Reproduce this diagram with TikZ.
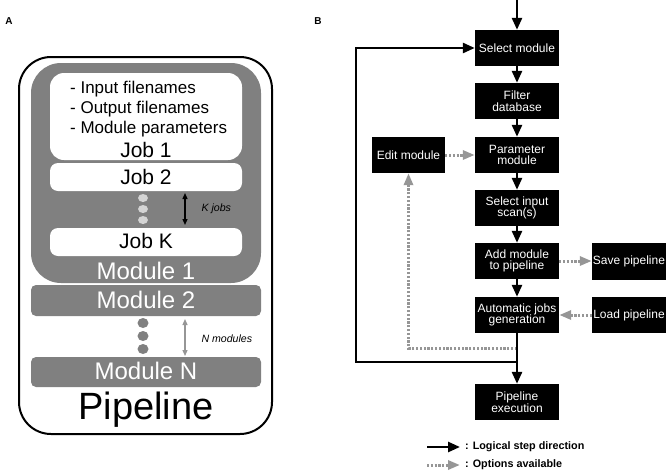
\documentclass[tikz,border=0pt]{standalone}
\usepackage{fontspec}
\setmainfont{Liberation Sans}
\usetikzlibrary{arrows.meta,calc,shapes.geometric}
\definecolor{modgray}{RGB}{128,128,128}
\definecolor{dotlight}{RGB}{212,212,212}
\definecolor{optgray}{RGB}{150,150,150}
\begin{document}
\begin{tikzpicture}[x=1pt,y=-1pt,
  fbox/.style={fill=black,text=white,minimum width=84pt,minimum height=36pt,align=center,inner sep=1pt,font=\fontsize{12}{11.5}\selectfont},
  flow/.style={line width=2.6pt,-{Triangle[length=12pt,width=10pt]}},
  opt/.style={line width=3pt,optgray,dash pattern=on 2.2pt off 1.6pt,-{Triangle[length=12pt,width=9pt]}},
  jobbox/.style={fill=white,rounded corners=8pt,minimum width=192pt,inner sep=0pt},
  modbox/.style={fill=modgray,rounded corners=5pt,minimum width=230pt,inner sep=0pt},
  modtext/.style={text=white,font=\fontsize{24}{24}\selectfont},
  jobtext/.style={font=\fontsize{21}{21}\selectfont},
  lightdot/.style={ellipse,fill=dotlight,minimum width=10pt,minimum height=8pt,inner sep=0pt},
  darkdot/.style={ellipse,fill=modgray,minimum width=11pt,minimum height=10pt,inner sep=0pt},
  panellabel/.style={font=\bfseries\fontsize{10}{10}\selectfont},
  countlabel/.style={anchor=west,font=\itshape\fontsize{10.6}{10.6}\selectfont}
]
\useasboundingbox (0,0) rectangle (669,474);

% ---------------- Panel A ----------------
\node[panellabel] (labA) at (9,21) {A};
\node[draw=black,line width=2pt,rounded corners=32pt,minimum width=253pt,minimum height=377pt,inner sep=0pt] (outer) at (145.5,245.5) {};
\node[fill=modgray,rounded corners=30pt,minimum width=230pt,minimum height=220pt,inner sep=0pt] (mod1) at (146,173) {};
\node[jobbox,minimum height=87pt,rounded corners=14pt] (job1) at (146,116.5) {};
\node[anchor=north west,align=left,font=\fontsize{17}{20}\selectfont,inner sep=0pt] (job1list) at (70,81) {- Input filenames\\- Output filenames\\- Module parameters};
\node[jobtext] (job1t) at (146,150) {Job 1};
\node[jobbox,minimum height=28pt] (job2) at (146,177) {};
\node[jobtext] (job2t) at (146,177) {Job 2};
\node[lightdot] (kd1) at (143,198) {};
\node[lightdot] (kd2) at (143,209) {};
\node[lightdot] (kd3) at (143,220) {};
\coordinate (ka) at (185,193);
\coordinate (kb) at (185,225);
\draw[line width=1.3pt,{Triangle[length=6pt,width=5pt]}-{Triangle[length=6pt,width=5pt]}] (ka) -- (kb);
\node[countlabel] (kjobs) at (198,209) {K jobs};
\node[jobbox,minimum height=28pt] (jobk) at (146,242) {};
\node[jobtext] (jobkt) at (146,241) {Job K};
\node[modtext] (mod1t) at (146,271) {Module 1};
\node[modbox,minimum height=31pt] (mod2) at (146,300.5) {};
\node[modtext] (mod2t) at (146,300) {Module 2};
\node[darkdot] (nd1) at (143,323) {};
\node[darkdot] (nd2) at (143,336) {};
\node[darkdot] (nd3) at (143,349) {};
\coordinate (na) at (185,319);
\coordinate (nb) at (185,356);
\draw[line width=1.2pt,optgray,{Triangle[length=6pt,width=5pt]}-{Triangle[length=6pt,width=5pt]}] (na) -- (nb);
\node[countlabel] (nmod) at (198,339) {N modules};
\node[modbox,minimum height=30pt] (modn) at (146,372) {};
\node[modtext] (modnt) at (146,371) {Module N};
\node[font=\fontsize{38}{38}\selectfont] (pipe) at (146,410) {Pipeline};

% ---------------- Panel B ----------------
\node[panellabel] (labB) at (318,21) {B};
\node[fbox] (sel) at (517,48) {Select module};
\node[fbox] (filt) at (517,101) {Filter\\database};
\node[fbox] (param) at (517,155) {Parameter\\module};
\node[fbox] (scan) at (517,208) {Select input\\scan(s)};
\node[fbox] (add) at (517,261) {Add module\\to pipeline};
\node[fbox] (auto) at (517,315) {Automatic jobs\\generation};
\node[fbox] (exec) at (517,402) {Pipeline\\execution};
\node[fbox,minimum width=73pt] (edit) at (408.5,155) {Edit module};
\node[fbox,minimum width=74pt,minimum height=37pt] (save) at (629,261) {Save pipeline};
\node[fbox,minimum width=74pt] (load) at (629,315) {Load pipeline};

\coordinate (topin) at (517,0);
\coordinate (dj) at (517,348);
\coordinate (lj) at (517,362);
\coordinate (lc) at (356,362);

% options (dotted gray)
\draw[opt] (edit) -- (param);
\draw[opt] (add) -- (save);
\draw[opt] (load) -- (auto);
\draw[opt] (dj) -| (edit.south);

% logical steps (black)
\draw[flow] (topin) -- (sel);
\draw[flow] (sel) -- (filt);
\draw[flow] (filt) -- (param);
\draw[flow] (param) -- (scan);
\draw[flow] (scan) -- (add);
\draw[flow] (add) -- (auto);
\draw[flow] (auto) -- (exec);
\draw[flow] (lj) -- (lc) |- (sel.west);

% legend
\coordinate (l1a) at (427,447);
\coordinate (l1b) at (460,447);
\coordinate (l2a) at (427,465);
\coordinate (l2b) at (460,465);
\draw[flow] (l1a) -- (l1b);
\draw[opt] (l2a) -- (l2b);
\node[anchor=west,font=\bfseries\fontsize{10.8}{10.8}\selectfont,inner sep=0pt] (leg1) at (465,447) {: Logical step direction};
\node[anchor=west,font=\bfseries\fontsize{10.8}{10.8}\selectfont,inner sep=0pt] (leg2) at (465,465) {: Options available};
\end{tikzpicture}
\end{document}
